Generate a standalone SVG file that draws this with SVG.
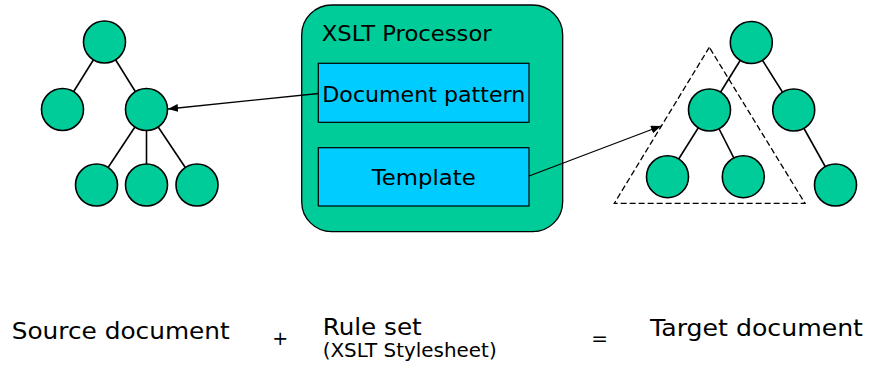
<svg xmlns="http://www.w3.org/2000/svg" width="871" height="369" viewBox="0 0 871 369">
  <style>
    .node { fill: #00CC99; stroke: #000; stroke-width: 1.6; }
    .edge { stroke: #000; stroke-width: 1.6; fill: none; }
    .arrow { stroke: #000; stroke-width: 1.3; fill: none; marker-end: url(#head); }
    .box { fill: #00CCFF; stroke: #000; stroke-width: 1.2; }
    .proc { fill: #00CC99; stroke: #000; stroke-width: 1.3; }
    .t { font-family: "DejaVu Sans", Verdana, sans-serif; fill: #000; }
  </style>
  <defs>
    <marker id="head" viewBox="0 0 10 8" refX="10" refY="4" markerWidth="10" markerHeight="8" markerUnits="userSpaceOnUse" orient="auto">
      <path d="M0,0 L10,4 L0,8 Z" fill="#000"/>
    </marker>
  </defs>

  <!-- XSLT processor -->
  <g id="processor">
    <rect class="proc" x="301.7" y="5" width="261" height="226.7" rx="30" ry="30"/>
    <text class="t" x="321.7" y="40.7" font-size="21" textLength="170" lengthAdjust="spacingAndGlyphs">XSLT Processor</text>
  </g>
  <g id="doc-pattern">
    <rect class="box" x="318.3" y="63.3" width="210.7" height="59"/>
    <text class="t" x="322.3" y="101.7" font-size="21" textLength="203" lengthAdjust="spacingAndGlyphs">Document pattern</text>
  </g>
  <g id="template">
    <rect class="box" x="318.3" y="147.7" width="210.7" height="58.3"/>
    <text class="t" x="371.7" y="185" font-size="21" textLength="104" lengthAdjust="spacingAndGlyphs">Template</text>
  </g>

  <!-- tree edges and arrows (circles are drawn on top) -->
  <g id="connectors">
    <line class="edge" x1="104.5" y1="42" x2="62.5" y2="109.5"/>
    <line class="edge" x1="104.5" y1="42" x2="146.5" y2="109.5"/>
    <line class="edge" x1="146.5" y1="109.5" x2="96.5" y2="185"/>
    <line class="edge" x1="146.5" y1="109.5" x2="146.5" y2="185"/>
    <line class="edge" x1="146.5" y1="109.5" x2="197" y2="185"/>

    <line class="edge" x1="751.3" y1="42.5" x2="709.5" y2="110"/>
    <line class="edge" x1="751.3" y1="42.5" x2="793.7" y2="110"/>
    <line class="edge" x1="709.5" y1="110" x2="667.5" y2="176.7"/>
    <line class="edge" x1="709.5" y1="110" x2="743.3" y2="176.7"/>
    <line class="edge" x1="793.7" y1="110" x2="835.5" y2="185"/>

    <line class="arrow" x1="318.5" y1="93.5" x2="168" y2="109"/>
    <line class="arrow" x1="529" y1="176" x2="661" y2="126"/>
  </g>

  <!-- source tree -->
  <g id="src-root"><circle class="node" cx="104.5" cy="42" r="21"/></g>
  <g id="src-a"><circle class="node" cx="62.5" cy="109.5" r="21"/></g>
  <g id="src-b"><circle class="node" cx="146.5" cy="109.5" r="21"/></g>
  <g id="src-b1"><circle class="node" cx="96.5" cy="185" r="21"/></g>
  <g id="src-b2"><circle class="node" cx="146.5" cy="185" r="21"/></g>
  <g id="src-b3"><circle class="node" cx="197" cy="185" r="21"/></g>

  <!-- matched subtree outline -->
  <g id="subtree-outline">
    <polygon points="709.3,47.3 614.3,203.3 805,203.3" fill="none" stroke="#000" stroke-width="1.3" stroke-dasharray="6,3"/>
  </g>

  <!-- target tree -->
  <g id="tgt-root"><circle class="node" cx="751.3" cy="42.5" r="21"/></g>
  <g id="tgt-a"><circle class="node" cx="709.5" cy="110" r="21"/></g>
  <g id="tgt-b"><circle class="node" cx="793.7" cy="110" r="21"/></g>
  <g id="tgt-a1"><circle class="node" cx="667.5" cy="176.7" r="21"/></g>
  <g id="tgt-a2"><circle class="node" cx="743.3" cy="176.7" r="21"/></g>
  <g id="tgt-b1"><circle class="node" cx="835.5" cy="185" r="21"/></g>

  <!-- equation labels -->
  <g id="equation">
    <text class="t" x="11.7" y="339.3" font-size="23" textLength="218" lengthAdjust="spacingAndGlyphs">Source document</text>
    <text class="t" x="280.3" y="345" font-size="19" text-anchor="middle">+</text>
    <text class="t" x="322.7" y="335" font-size="23" textLength="99" lengthAdjust="spacingAndGlyphs">Rule set</text>
    <text class="t" x="322.7" y="357.3" font-size="19" textLength="174" lengthAdjust="spacingAndGlyphs">(XSLT Stylesheet)</text>
    <text class="t" x="599.7" y="345" font-size="20" text-anchor="middle">=</text>
    <text class="t" x="650" y="336" font-size="23" textLength="213" lengthAdjust="spacingAndGlyphs">Target document</text>
  </g>
</svg>
